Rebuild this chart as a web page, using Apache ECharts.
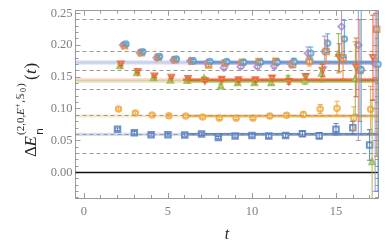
<!DOCTYPE html>
<html><head><meta charset="utf-8">
<script src="https://cdn.jsdelivr.net/npm/echarts@6/dist/echarts.min.js"></script>
<style>html,body{margin:0;padding:0;background:#fff}#c{width:390px;height:248px}</style>
</head><body><div id="c"></div>
<script>
// ---- data ----
const tValues = [2,3,4,5,6,7,8,9,10,11,12,13,14,15,16,17];
const xTickLabels = [0,5,10,15];
const yTickLabels = [0,0.05,0.10,0.15,0.20,0.25];
const refLevels = [0.245,0.186,0.156,0.126,0.094,0.064,0.032];

const names   = ['blueSquares','orangeCircles','greenTriangles','redTriangles','purpleDiamonds','orangeSquares','lightBlueCircles'];
const colors  = ['#4F78BE','#F2A533','#93B83F','#EC5A2C','#A58BD2','#E5862C','#4C9ED8'];
const symbols = ['emptyRect','emptyCircle','emptyTriangle','emptyTriangle','emptyDiamond','emptyRect','emptyCircle'];
const tShift  = [0,0.06,0.15,0.2,0.33,0.42,0.5];

const blueSquares      = [0.0676,0.0623,0.0591,0.0590,0.0587,0.0600,0.0545,0.0570,0.0580,0.0570,0.0580,0.0607,0.0575,0.0676,0.0700,0.0430];
const blueSquaresErr   = [0.002,0.002,0.002,0.002,0.002,0.002,0.002,0.002,0.0025,0.003,0.003,0.004,0.005,0.009,0.010,0.024];
const orangeCircles    = [0.0995,0.0932,0.0900,0.0890,0.0885,0.0870,0.0850,0.0850,0.0850,0.0885,0.0896,0.0910,0.0995,0.1006,0.0850,0.0990];
const orangeCirclesErr = [0.002,0.002,0.002,0.002,0.002,0.002,0.002,0.002,0.002,0.003,0.003,0.004,0.007,0.011,0.018,0.036];
const greenTriangles   = [0.1680,0.1570,0.1490,0.1450,0.1446,0.1480,0.1360,0.1410,0.1410,0.1410,0.1480,0.1450,0.1560,0.1870,0.1480,0.0170];
const greenTrianglesErr= [0.002,0.002,0.002,0.002,0.002,0.002,0.003,0.003,0.003,0.004,0.004,0.007,0.014,0.031,0.057,0.097];
const redTriangles     = [0.1697,0.1580,0.1510,0.1490,0.1470,0.1440,0.1460,0.1450,0.1450,0.1480,0.1425,0.1500,0.1600,0.1800,0.1650,0.1800];
const redTrianglesErr  = [0.002,0.002,0.002,0.002,0.002,0.002,0.003,0.003,0.003,0.004,0.004,0.005,0.010,0.022,0.046,0.067];
const purpleDiamonds   = [0.2000,0.1880,0.1800,0.1766,0.1750,0.1720,0.1645,0.1660,0.1660,0.1670,0.1700,0.1870,0.1900,0.2290,0.2000,0.1700];
const purpleDiamondsErr= [0.002,0.002,0.002,0.002,0.002,0.003,0.003,0.003,0.003,0.004,0.004,0.010,0.024,0.050,0.150,0.200];
const orangeSquares    = [0.1990,0.1880,0.1810,0.1770,0.1750,0.1687,0.1720,0.1730,0.1740,0.1740,0.1700,0.1750,0.1900,0.1800,0.1600,0.2250];
const orangeSquaresErr = [0.002,0.002,0.002,0.002,0.002,0.003,0.003,0.003,0.004,0.005,0.006,0.008,0.018,0.033,0.080,0.200];
const lightBlueCircles = [0.2015,0.1896,0.1820,0.1780,0.1755,0.1740,0.1740,0.1730,0.1730,0.1730,0.1740,0.1870,0.2030,0.2096,0.1610,0.1700];
const lightBlueCirclesErr=[0.002,0.002,0.002,0.002,0.002,0.002,0.003,0.003,0.003,0.003,0.005,0.010,0.0147,0.029,0.100,0.200];

const values = [blueSquares,orangeCircles,greenTriangles,redTriangles,purpleDiamonds,orangeSquares,lightBlueCircles];
const errors = [blueSquaresErr,orangeCirclesErr,greenTrianglesErr,redTrianglesErr,purpleDiamondsErr,orangeSquaresErr,lightBlueCirclesErr];

const fitValues = [0.0597,0.0885,0.1430,0.1455,0.1715,0.1735];
const fitStart  = [5.9,6.1,6.1,5.9,6.3,6.45];
const fitColors = ['#4F78BE','#F2A533','#93B83F','#EC5A2C','#A58BD2','#5E98CC'];

const xMin=-0.5, xMax=17.5, yMin=-0.0404, yMax=0.254;

// ---- build ----
const chart = echarts.init(document.getElementById('c'), null, {renderer:'canvas'});
const frame = '#9a9a9a';
const labelFont = {fontFamily:'"Liberation Serif", serif', fontSize:12.5, color:'#808080'};
const minorX = []; for (let i=0;i<=17;i++) if (i%5) minorX.push(i);
const minorY = []; for (let i=-4;i<=25;i++) if (i%5) minorY.push(+(i*0.01).toFixed(2));

function xAx(pos, custom, len, showLabel){
  return {type:'value', position:pos, min:xMin, max:xMax,
    axisLine:{show:true, onZero:false, lineStyle:{color:frame, width:1}},
    splitLine:{show:false},
    axisTick:{show:true, inside:true, length:len, customValues:custom, lineStyle:{color:frame}},
    axisLabel:showLabel?Object.assign({show:true, margin:7, customValues:custom, formatter:v=>String(v)},labelFont):{show:false}};
}
function yAx(pos, custom, len, showLabel){
  return {type:'value', position:pos, min:yMin, max:yMax,
    axisLine:{show:true, onZero:false, lineStyle:{color:frame, width:1}},
    splitLine:{show:false},
    axisTick:{show:true, inside:true, length:len, customValues:custom, lineStyle:{color:frame}},
    axisLabel:showLabel?Object.assign({show:true, margin:3, customValues:custom, formatter:v=>v.toFixed(2)},labelFont):{show:false}};
}

const series = [];
series.push({type:'line', data:[], xAxisIndex:0, yAxisIndex:0, silent:true,
  markLine:{symbol:'none', silent:true, label:{show:false},
    lineStyle:{color:'#9a9a9a', type:[4,3], width:1.2},
    data:refLevels.map(v=>({yAxis:v}))}});
series.push({type:'line', data:[], xAxisIndex:0, yAxisIndex:0, silent:true,
  markLine:{symbol:'none', silent:true, label:{show:false},
    lineStyle:{color:'#111', type:'solid', width:1.3},
    data:[{yAxis:0}]}});
fitValues.forEach((v,i)=>{
  series.push({type:'line', silent:true, showSymbol:false, symbol:'none', z:3,
    data:[[xMin,v],[xMax,v]], lineStyle:{color:fitColors[i], width:3.2, opacity:0.25}});
  series.push({type:'line', silent:true, showSymbol:false, symbol:'none', z:3,
    data:[[fitStart[i],v],[xMax,v]], lineStyle:{color:fitColors[i], width:2.4, opacity:0.85}});
});
values.forEach((vals,k)=>{
  const pts = tValues.map((t,i)=>[t+tShift[k], vals[i], errors[k][i]]);
  series.push({type:'scatter', name:names[k], z:4, silent:true,
    symbol:symbols[k], symbolSize:k===4?6.5:5.5, symbolRotate:k===3?180:0,
    itemStyle:{color:colors[k], borderWidth:1, opacity:0.8},
    data:pts.map(p=>[p[0],p[1]])});
  const col = colors[k];
  series.push({type:'custom', z:5, silent:true, clip:true,
    data:pts,
    renderItem:function(params, api){
      const x=api.value(0), y=api.value(1), e=api.value(2);
      const a=api.coord([x,y+e]), b=api.coord([x,y-e]);
      const cw=2.6, st={stroke:col, lineWidth:1.1, opacity:0.85};
      return {type:'group', children:[
        {type:'line', shape:{x1:a[0],y1:a[1],x2:b[0],y2:b[1]}, style:st},
        {type:'line', shape:{x1:a[0]-cw,y1:a[1],x2:a[0]+cw,y2:a[1]}, style:st},
        {type:'line', shape:{x1:b[0]-cw,y1:b[1],x2:b[0]+cw,y2:b[1]}, style:st}
      ]};
    }});
});

const serif = '"Liberation Serif", "DejaVu Serif", serif';
chart.setOption({
  animation:false,
  backgroundColor:'#fff',
  grid:{left:75.5, top:10.7, width:302.5, height:187.3, show:false},
  xAxis:[xAx('bottom',xTickLabels,5,true), xAx('bottom',minorX,3,false), xAx('top',xTickLabels,5,false), xAx('top',minorX,3,false)],
  yAxis:[yAx('left',yTickLabels,5,true), yAx('left',minorY,3,false), yAx('right',yTickLabels,5,false), yAx('right',minorY,3,false)],
  series:series,
  graphic:[
    {type:'group', x:31.5, y:157, rotation:Math.PI/2, silent:true, children:[
      {type:'text', x:0, y:0, style:{text:'Δ', fontFamily:serif, fontSize:17, fill:'#222', verticalAlign:'middle', align:'left'}},
      {type:'text', x:10.5, y:0, style:{text:'E', fontFamily:serif, fontStyle:'italic', fontSize:17, fill:'#222', verticalAlign:'middle', align:'left'}},
      {type:'text', x:22, y:-10.5, style:{text:'(2,0,', fontFamily:serif, fontSize:11, fill:'#222', verticalAlign:'middle', align:'left'}},
      {type:'text', x:42, y:-10.5, style:{text:'E', fontFamily:serif, fontStyle:'italic', fontSize:11, fill:'#222', verticalAlign:'middle', align:'left'}},
      {type:'text', x:49, y:-13.5, style:{text:'+', fontFamily:serif, fontSize:8, fill:'#222', verticalAlign:'middle', align:'left'}},
      {type:'text', x:54, y:-10.5, style:{text:',𝕊', fontFamily:'"DejaVu Sans", "Noto Sans", sans-serif', fontSize:10.5, fill:'#222', verticalAlign:'middle', align:'left'}},
      {type:'text', x:65, y:-7.5, style:{text:'0', fontFamily:serif, fontSize:8, fill:'#222', verticalAlign:'middle', align:'left'}},
      {type:'text', x:70, y:-10.5, style:{text:')', fontFamily:serif, fontSize:11, fill:'#222', verticalAlign:'middle', align:'left'}},
      {type:'text', x:22, y:9, style:{text:'n', fontFamily:'"DejaVu Sans", sans-serif', fontSize:11, fill:'#222', verticalAlign:'middle', align:'left'}},
      {type:'text', x:77, y:0, style:{text:'(', fontFamily:serif, fontSize:17, fill:'#222', verticalAlign:'middle', align:'left'}},
      {type:'text', x:83, y:0, style:{text:'t', fontFamily:serif, fontStyle:'italic', fontSize:17, fill:'#222', verticalAlign:'middle', align:'left'}},
      {type:'text', x:88.5, y:0, style:{text:')', fontFamily:serif, fontSize:17, fill:'#222', verticalAlign:'middle', align:'left'}}
    ]},
    {type:'text', x:227, y:235, silent:true, style:{text:'t', fontFamily:serif, fontStyle:'italic', fontSize:16, fill:'#222', align:'center', verticalAlign:'middle'}}
  ]
});
</script>
</body></html>
